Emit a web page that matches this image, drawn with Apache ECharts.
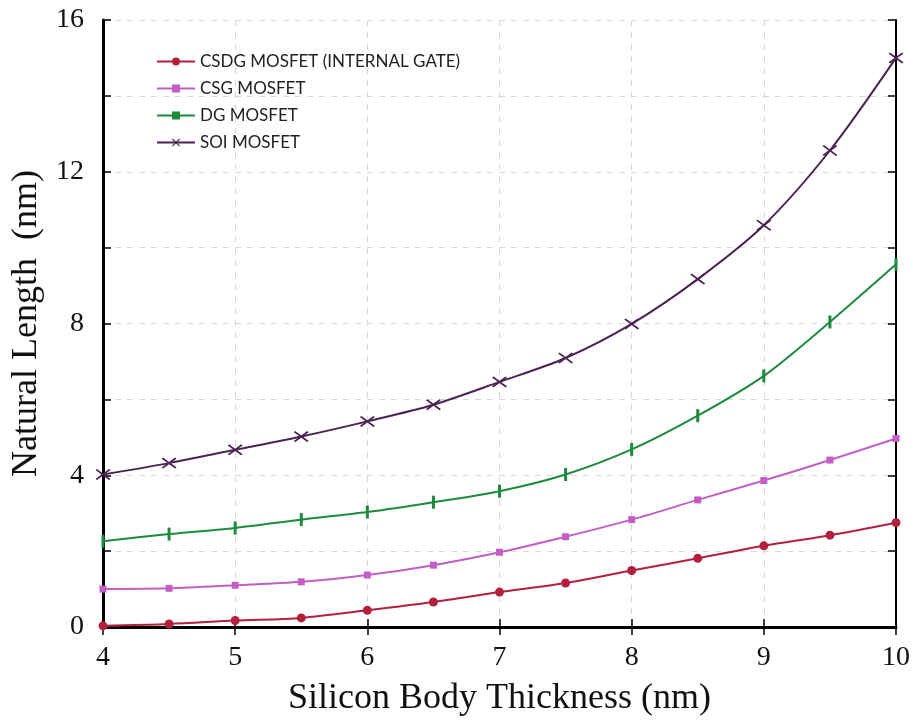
<!DOCTYPE html>
<html><head><meta charset="utf-8">
<script src="https://cdn.jsdelivr.net/npm/echarts@6/dist/echarts.min.js"></script>
<style>html,body{margin:0;padding:0;background:#fff}#c{width:913px;height:722px}</style>
</head><body><div id="c"></div>
<script>
const xValues = [4, 4.5, 5, 5.5, 6, 6.5, 7, 7.5, 8, 8.5, 9, 9.5, 10];
const csdg = [0.03, 0.08, 0.17, 0.24, 0.44, 0.66, 0.92, 1.16, 1.49, 1.81, 2.14, 2.42, 2.75];
const csg  = [1.0, 1.02, 1.10, 1.19, 1.37, 1.63, 1.97, 2.38, 2.83, 3.35, 3.86, 4.40, 4.97];
const dg   = [2.26, 2.45, 2.61, 2.83, 3.03, 3.29, 3.58, 4.02, 4.68, 5.57, 6.62, 8.04, 9.56];
const soi  = [4.02, 4.32, 4.67, 5.02, 5.42, 5.86, 6.46, 7.09, 7.99, 9.17, 10.59, 12.56, 15.0];
const seriesNames = ['CSDG MOSFET (INTERNAL GATE)', 'CSG MOSFET', 'DG MOSFET', 'SOI MOSFET'];
const yTickLabels = [0, 4, 8, 12, 16];
const xTickLabels = [4, 5, 6, 7, 8, 9, 10];

const pair = arr => xValues.map((x, i) => [x, arr[i]]);
const serif = '"Liberation Serif", "DejaVu Serif", serif';
const xShape = 'path://M0,1 L1,0 L5,4 L9,0 L10,1 L6,5 L10,9 L9,10 L5,6 L1,10 L0,9 L4,5 Z';

const chart = echarts.init(document.getElementById('c'), null, {renderer: 'canvas'});
const gridLine = {show: true, lineStyle: {color: '#d8d8d8', type: [6, 6], width: 1}};
chart.setOption({
  animation: false,
  backgroundColor: '#fff',
  grid: {left: 103, right: 16, top: 20, bottom: 92, containLabel: false},
  legend: {
    left: 151, top: 48, orient: 'vertical', itemWidth: 38, itemHeight: 10, itemGap: 10,
    textStyle: {fontFamily: 'Lato, "Noto Sans", sans-serif', fontSize: 17, color: '#222'},
    data: seriesNames
  },
  xAxis: [{
    type: 'value', min: 4, max: 10, interval: 1,
    name: 'Silicon Body Thickness (nm)', nameLocation: 'middle', nameGap: 54,
    nameTextStyle: {fontFamily: serif, fontSize: 36, color: '#111'},
    axisLine: {lineStyle: {color: '#000', width: 3}},
    axisTick: {inside: true, length: 8, lineStyle: {color: '#000', width: 1.5}},
    axisLabel: {fontFamily: serif, fontSize: 28, color: '#111', margin: 17,
      formatter: v => xTickLabels.includes(v) ? String(v) : ''},
    splitLine: gridLine
  }, {
    type: 'value', min: 4, max: 10, interval: 1, position: 'top',
    axisLine: {show: true, lineStyle: {color: '#000', width: 2}},
    axisTick: {inside: true, length: 8, lineStyle: {color: '#000', width: 1.5}},
    axisLabel: {show: false}, splitLine: {show: false}
  }],
  yAxis: [{
    type: 'value', min: 0, max: 16, interval: 2,
    name: 'Natural Length  (nm)', nameLocation: 'middle', nameGap: 58,
    nameTextStyle: {fontFamily: serif, fontSize: 36, color: '#111'},
    axisLine: {show: true, lineStyle: {color: '#000', width: 3}},
    axisTick: {inside: true, length: 8, lineStyle: {color: '#000', width: 1.5}},
    axisLabel: {fontFamily: serif, fontSize: 28, color: '#111', margin: 19,
      formatter: v => yTickLabels.includes(v) ? String(v) : ''},
    splitLine: gridLine
  }, {
    type: 'value', min: 0, max: 16, interval: 2, position: 'right',
    axisLine: {show: true, lineStyle: {color: '#000', width: 2}},
    axisTick: {inside: true, length: 8, lineStyle: {color: '#000', width: 1.5}},
    axisLabel: {show: false}, splitLine: {show: false}
  }],
  series: [
    {name: seriesNames[0], type: 'line', smooth: 0.3, data: pair(csdg), symbol: 'circle', symbolSize: 9,
      lineStyle: {color: '#b3203e', width: 2}, itemStyle: {color: '#b3203e'}},
    {name: seriesNames[1], type: 'line', smooth: 0.3, data: pair(csg), symbol: 'rect', symbolSize: 7,
      lineStyle: {color: '#c25ec4', width: 2}, itemStyle: {color: '#c25ec4'}},
    {name: seriesNames[2], type: 'line', smooth: 0.3, data: pair(dg), symbol: 'rect', symbolSize: [3, 13],
      lineStyle: {color: '#1e8a3e', width: 2}, itemStyle: {color: '#1e8a3e'}},
    {name: seriesNames[3], type: 'line', smooth: 0.3, data: pair(soi), symbol: xShape, symbolSize: [15, 11],
      lineStyle: {color: '#4b2352', width: 2}, itemStyle: {color: '#4b2352'}}
  ]
});
</script></body></html>
